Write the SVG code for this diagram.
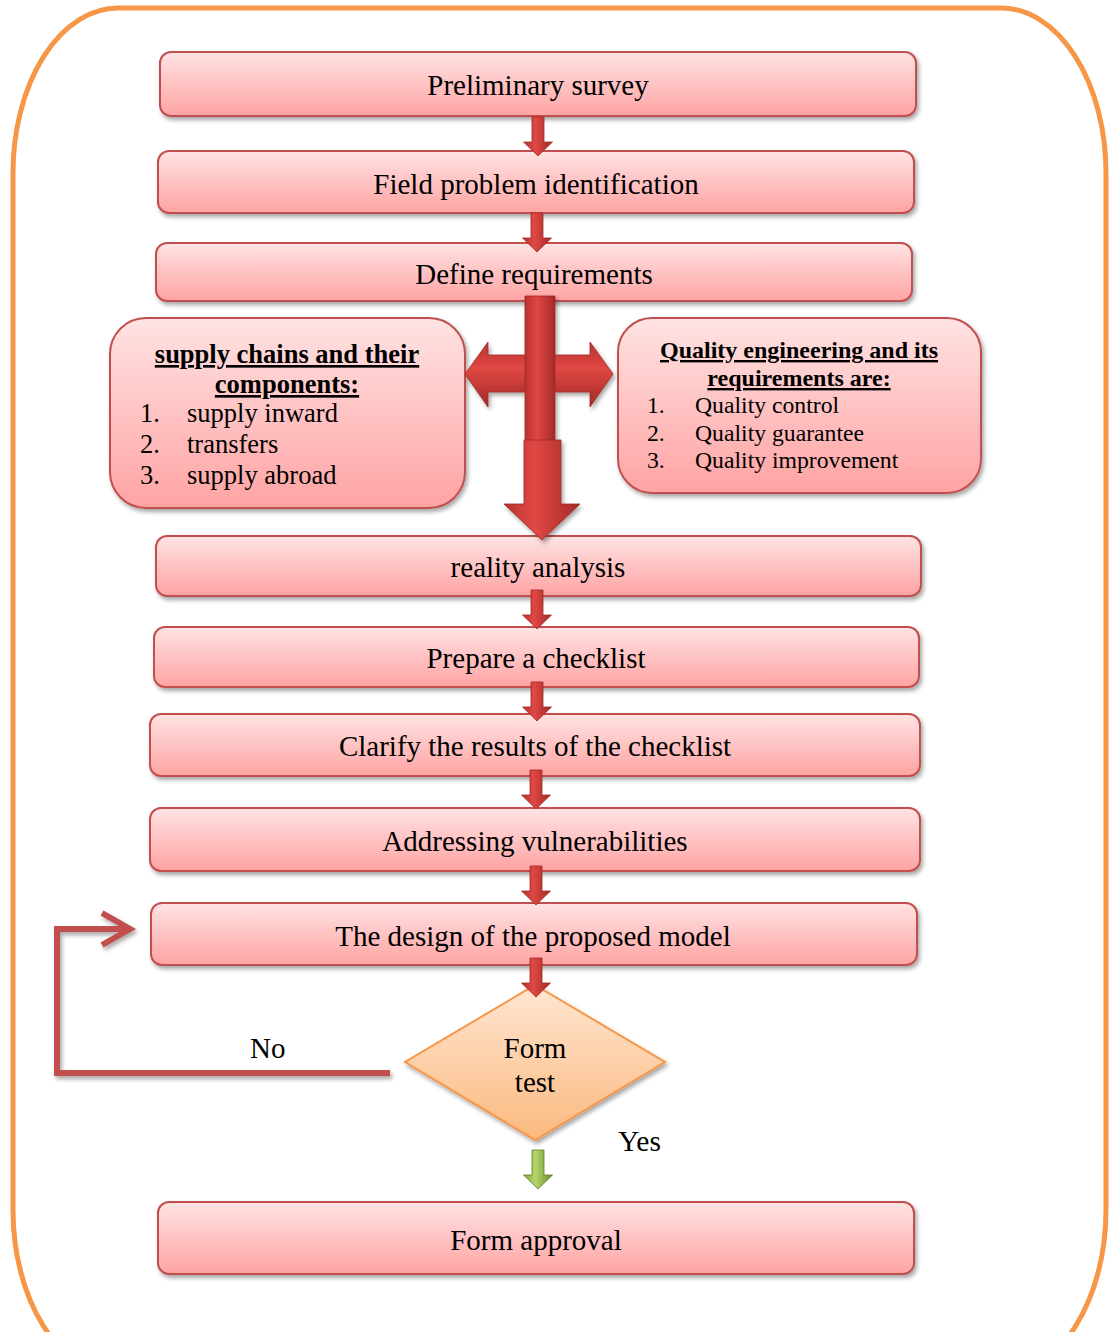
<svg xmlns="http://www.w3.org/2000/svg" width="1110" height="1332" viewBox="0 0 1110 1332">
<defs>
<linearGradient id="boxg" x1="0" y1="0" x2="0" y2="1">
<stop offset="0" stop-color="#FFE3E3"/><stop offset="1" stop-color="#FFA3A3"/>
</linearGradient>
<linearGradient id="diag" x1="0" y1="0" x2="0" y2="1">
<stop offset="0" stop-color="#FFE6D2"/><stop offset="1" stop-color="#FBB97F"/>
</linearGradient>
<linearGradient id="redh" x1="0" y1="0" x2="1" y2="0">
<stop offset="0" stop-color="#B8322F"/><stop offset="0.4" stop-color="#E04844"/><stop offset="1" stop-color="#A32A27"/>
</linearGradient>
<linearGradient id="redv" x1="0" y1="0" x2="0" y2="1">
<stop offset="0" stop-color="#B8322F"/><stop offset="0.4" stop-color="#E04844"/><stop offset="1" stop-color="#A32A27"/>
</linearGradient>
<linearGradient id="greenh" x1="0" y1="0" x2="1" y2="0">
<stop offset="0" stop-color="#7FA33A"/><stop offset="0.4" stop-color="#B5D66E"/><stop offset="1" stop-color="#6B8E2A"/>
</linearGradient>
<filter id="sh" x="-5%" y="-10%" width="110%" height="130%">
<feDropShadow dx="2" dy="3" stdDeviation="2" flood-color="#000" flood-opacity="0.35"/>
</filter>
<path id="arr" d="M-6,0 H6 V25 H14.5 L0,39 L-14.5,25 H-6 Z"/>
</defs>
<style>
.box{fill:url(#boxg);stroke:#C0504D;stroke-width:2;filter:url(#sh)}
.t{font-family:"Liberation Serif","Times New Roman",serif;font-size:29px;fill:#000;text-anchor:middle}
.l{font-family:"Liberation Serif","Times New Roman",serif;fill:#000}
.h{font-weight:bold;text-decoration:underline;text-anchor:middle}
.ra{fill:url(#redh);stroke:#9E2A27;stroke-width:0.8}
</style>
<rect x="13" y="8" width="1093" height="1367" rx="105" ry="165" fill="none" stroke="#F79646" stroke-width="5"/>

<g id="n1"><rect class="box" x="160" y="52" width="756" height="64" rx="11"/><text class="t" x="538" y="95">Preliminary survey</text></g>
<g id="n2"><rect class="box" x="158" y="151" width="756" height="62" rx="11"/><text class="t" x="536" y="194">Field problem identification</text></g>
<g id="n3"><rect class="box" x="156" y="243" width="756" height="58" rx="11"/><text class="t" x="534" y="284">Define requirements</text></g>

<g id="n4"><rect class="box" x="110" y="318" width="355" height="190" rx="36"/>
<text class="l h" x="287" y="363" font-size="26.5">supply chains and their</text>
<text class="l h" x="287" y="393" font-size="26.5">components:</text>
<text class="l" x="140" y="422" font-size="26.5">1.</text><text class="l" x="187" y="422" font-size="26.5">supply inward</text>
<text class="l" x="140" y="453" font-size="26.5">2.</text><text class="l" x="187" y="453" font-size="26.5">transfers</text>
<text class="l" x="140" y="484" font-size="26.5">3.</text><text class="l" x="187" y="484" font-size="26.5">supply abroad</text>
</g>
<g id="n5"><rect class="box" x="618" y="318" width="363" height="175" rx="34"/>
<text class="l h" x="799" y="358" font-size="24">Quality engineering and its</text>
<text class="l h" x="799" y="386" font-size="24">requirements are:</text>
<text class="l" x="647" y="413" font-size="23.7">1.</text><text class="l" x="695" y="413" font-size="23.7">Quality control</text>
<text class="l" x="647" y="441" font-size="23.7">2.</text><text class="l" x="695" y="441" font-size="23.7">Quality guarantee</text>
<text class="l" x="647" y="468" font-size="23.7">3.</text><text class="l" x="695" y="468" font-size="23.7">Quality improvement</text>
</g>

<g id="n6"><rect class="box" x="156" y="536" width="765" height="60" rx="11"/><text class="t" x="538" y="577">reality analysis</text></g>
<g id="n7"><rect class="box" x="154" y="627" width="765" height="60" rx="11"/><text class="t" x="536" y="668">Prepare a checklist</text></g>
<g id="n8"><rect class="box" x="150" y="714" width="770" height="62" rx="11"/><text class="t" x="535" y="756">Clarify the results of the checklist</text></g>
<g id="n9"><rect class="box" x="150" y="808" width="770" height="63" rx="11"/><text class="t" x="535" y="851">Addressing vulnerabilities</text></g>
<g id="n10"><rect class="box" x="151" y="903" width="766" height="62" rx="11"/><text class="t" x="533" y="946">The design of the proposed model</text></g>
<g id="n11"><path d="M535,985 L665,1062 L535,1140 L405,1062 Z" fill="url(#diag)" stroke="#F79646" stroke-width="2" filter="url(#sh)"/>
<text class="t" x="535" y="1058">Form</text><text class="t" x="535" y="1092">test</text></g>
<g id="n12"><rect class="box" x="158" y="1202" width="756" height="72" rx="11"/><text class="t" x="536" y="1250">Form approval</text></g>

<g id="connectors">
<use href="#arr" class="ra" x="538" y="117"/>
<use href="#arr" class="ra" x="537" y="213"/>
<use href="#arr" class="ra" x="537" y="590"/>
<use href="#arr" class="ra" x="537" y="682"/>
<use href="#arr" class="ra" x="536" y="770"/>
<use href="#arr" class="ra" x="536" y="866"/>
<use href="#arr" class="ra" x="536" y="958"/>
<use href="#arr" x="538" y="1150" fill="url(#greenh)" stroke="#5E7E22" stroke-width="0.8"/>
<g filter="url(#sh)">
<path d="M465,374 L488,342 L488,355 L590,355 L590,342 L613,374 L590,407 L590,392 L488,392 L488,407 Z" fill="url(#redv)" stroke="#9E2A27" stroke-width="0.8"/>
<path d="M525,296 H555 V445 H525 Z" fill="url(#redh)" stroke="#9E2A27" stroke-width="0.8"/>
<path d="M524,440 H561 V504 H580 L542,540 L504,504 H524 Z" fill="url(#redh)" stroke="#9E2A27" stroke-width="0.8"/>
</g>
<g fill="none" stroke="#C0504D" stroke-width="6" filter="url(#sh)">
<path d="M390,1073 H57 V929 H128"/>
<path d="M102,913 L130,929 L102,945" stroke-linejoin="miter"/>
</g>
</g>
<text class="l" x="250" y="1058" font-size="29">No</text>
<text class="l" x="618" y="1151" font-size="29.5">Yes</text>
</svg>
